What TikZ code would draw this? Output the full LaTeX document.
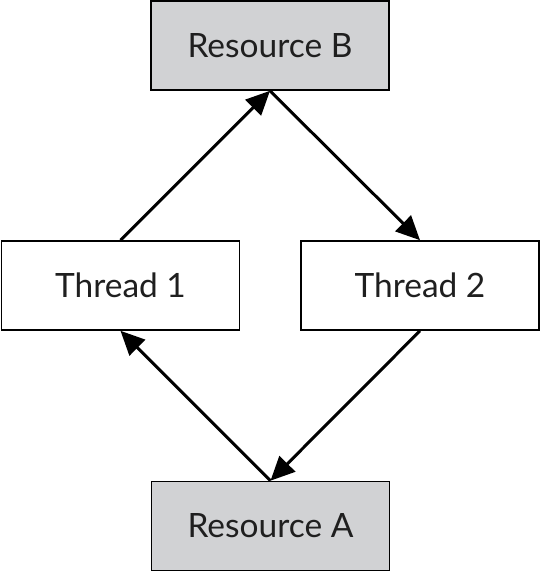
\documentclass[tikz,border=0pt]{standalone}
\usepackage{fontspec}
\setmainfont{Lato}
\usetikzlibrary{arrows.meta}
\definecolor{resgray}{HTML}{D1D2D4}
\begin{document}
\begin{tikzpicture}[x=1pt,y=-1pt,
  box/.style={draw=black,line width=1.6pt,minimum width=238pt,minimum height=89pt,inner sep=0pt,font=\fontsize{33.5}{36}\selectfont,text=black!88},
  res/.style={box,fill=resgray},
  thr/.style={box,fill=white},
  conn/.style={line width=3pt,-{Triangle[length=24pt,width=22pt]}}]
\useasboundingbox (0,0) rectangle (541,572);
\node[res] (rb) at (270,45.5) {Resource B};
\node[thr] (t1) at (120.5,285.5) {Thread 1};
\node[thr] (t2) at (420,285.5) {Thread 2};
\node[res] (ra) at (270.5,526) {Resource A};
\draw[conn] (t1.north) -- (rb.south);
\draw[conn] (rb.south) -- (t2.north);
\draw[conn] (t2.south) -- (ra.north);
\draw[conn] (ra.north) -- (t1.south);
\end{tikzpicture}
\end{document}
